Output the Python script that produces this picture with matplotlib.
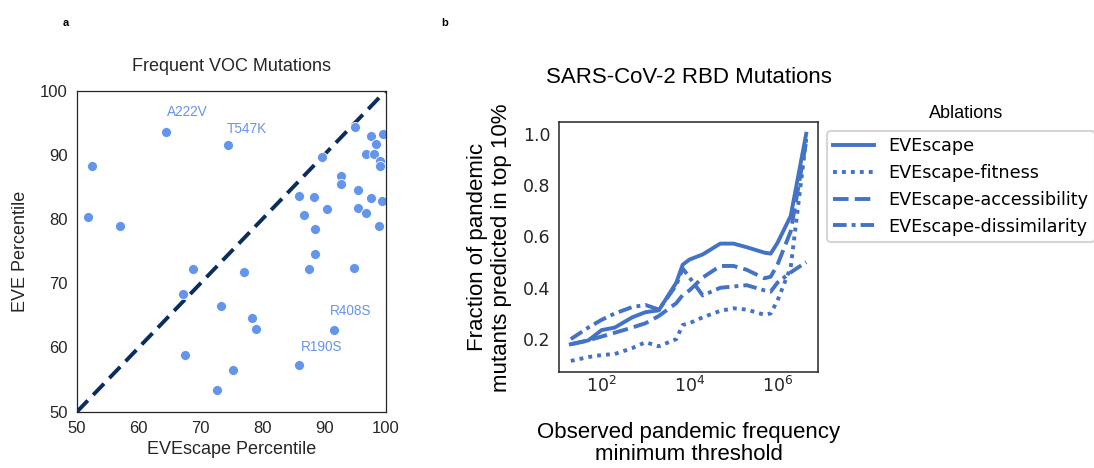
import numpy as np
import matplotlib
matplotlib.use("Agg")
import matplotlib.pyplot as plt

# --- panel a: frequent VOC mutations ---
evescape_pct = [64.4, 74.5, 52.4, 51.8, 57.0, 68.7, 67.1, 77.1, 73.3, 78.3,
                79.0, 67.4, 75.2, 72.7, 85.9, 91.6, 94.8, 87.6, 88.5, 88.5,
                86.7, 85.9, 88.3, 90.5, 92.7, 92.7, 95.4, 95.4, 96.8, 97.5,
                98.8, 99.3, 89.6, 95.0, 97.6, 98.4, 96.7, 98.0, 99.0, 99.0,
                99.5]
eve_pct = [93.5, 91.6, 88.3, 80.3, 78.9, 72.3, 68.4, 71.7, 66.4, 64.6,
           62.9, 58.8, 56.5, 53.4, 57.3, 62.7, 72.4, 72.3, 74.5, 78.4,
           80.7, 83.6, 83.5, 81.6, 86.7, 85.5, 84.6, 81.7, 81.0, 83.3,
           78.9, 82.8, 89.6, 94.4, 93.0, 91.7, 90.2, 90.2, 89.1, 88.2,
           93.3]
labels = ["A222V", "T547K", "R408S", "R190S"]
label_x = [64.5, 74.2, 90.9, 86.3]
label_y = [96.6, 94.1, 65.7, 60.0]

# --- panel b: ablations ---
thresholds = [20, 50, 100, 200, 500, 1e3, 2e3, 5e3, 7e3, 1e4, 2e4, 5e4,
              1e5, 2e5, 5e5, 7e5, 1e6, 2e6, 4.5e6]
full = [0.18, 0.195, 0.235, 0.245, 0.285, 0.305, 0.312, 0.42, 0.49, 0.51,
        0.53, 0.572, 0.572, 0.558, 0.537, 0.533, 0.575, 0.68, 1.0]
no_fitness = [0.115, 0.13, 0.138, 0.142, 0.165, 0.188, 0.172, 0.20, 0.255,
              0.262, 0.285, 0.31, 0.32, 0.315, 0.295, 0.30, 0.35, 0.48, 0.98]
no_access = [0.18, 0.195, 0.21, 0.225, 0.245, 0.262, 0.29, 0.34, 0.372,
             0.39, 0.44, 0.485, 0.485, 0.47, 0.437, 0.443, 0.49, 0.62, 0.97]
no_dissim = [0.20, 0.245, 0.275, 0.30, 0.325, 0.333, 0.315, 0.41, 0.475,
             0.44, 0.37, 0.40, 0.405, 0.41, 0.39, 0.385, 0.42, 0.46, 0.50]
ablation_names = ["EVEscape", "EVEscape-fitness", "EVEscape-accessibility",
                  "EVEscape-dissimilarity"]

plt.rcParams["font.family"] = ["Liberation Sans", "DejaVu Sans"]
fig = plt.figure(figsize=(10.94, 4.68), dpi=100)
dark = "#262626"

ax = fig.add_axes([0.0704, 0.1203, 0.2824, 0.686])
ax.plot([50, 100], [50, 100], ls=(0, (4, 2)), color="#0b2d5e", lw=2.8, zorder=1)
ax.scatter(evescape_pct, eve_pct, s=52, color="#6495ED", edgecolor="white",
           linewidth=0.6, zorder=2)
for txt, lx, ly in zip(labels, label_x, label_y):
    ax.text(lx, ly, txt, color="#6495ED", fontsize=9.8, va="center")
ax.set_xlim(50, 100)
ax.set_ylim(50, 100)
ax.set_xticks([50, 60, 70, 80, 90, 100])
ax.set_yticks([50, 60, 70, 80, 90, 100])
ax.tick_params(length=0, labelsize=12, pad=6.5, colors=dark)
for sp in ax.spines.values():
    sp.set_color(dark)
    sp.set_linewidth(0.9)
ax.set_xlabel("EVEscape Percentile", fontsize=13, color=dark, labelpad=4)
ax.set_ylabel("EVE Percentile", fontsize=13, color=dark, labelpad=8)
ax.set_title("Frequent VOC Mutations", fontsize=13, pad=14, color=dark)

bx = fig.add_axes([0.511, 0.2045, 0.2367, 0.534])
blue = "#4472C4"
styles = ["-", (0, (1, 1.3)), (0, (4, 1.6)), (0, (3.5, 1.3, 1, 1.3))]
for ys, name, st in zip([full, no_fitness, no_access, no_dissim],
                        ablation_names, styles):
    bx.plot(thresholds, ys, ls=st, color=blue, lw=2.8, label=name)
bx.set_xscale("log")
bx.set_xticks([1e2, 1e4, 1e6])
bx.minorticks_off()
bx.set_yticks([0.2, 0.4, 0.6, 0.8, 1.0])
bx.tick_params(axis="x", length=0, pad=2.5, colors=dark)
bx.tick_params(axis="y", length=0, pad=6, colors=dark)
for t in bx.get_yticklabels() + bx.get_xticklabels():
    t.set_fontfamily("DejaVu Sans")
    t.set_fontsize(12.5)
for sp in bx.spines.values():
    sp.set_color(dark)
    sp.set_linewidth(1.1)
bx.set_title("SARS-CoV-2 RBD Mutations", fontsize=16, pad=28)
bx.set_xlabel("Observed pandemic frequency\nminimum threshold", fontsize=16,
              labelpad=19, linespacing=1.05)
bx.set_ylabel("Fraction of pandemic\nmutants predicted in top 10%", fontsize=16,
              labelpad=8)
leg = bx.legend(loc="upper left", bbox_to_anchor=(827 / 1094, 1 - 131 / 468),
                bbox_transform=fig.transFigure, borderaxespad=0,
                frameon=True, fancybox=True,
                prop={"family": "DejaVu Sans", "size": 12.7},
                handlelength=2.3, borderpad=0.35,
                labelspacing=0.5, handletextpad=0.85)
leg.get_frame().set_edgecolor("#cccccc")
leg.get_frame().set_linewidth(1.5)
fig.text(966 / 1094, 1 - 113 / 468, "Ablations", fontsize=13, ha="center",
         va="center")

fig.text(0.057, 0.945, "a", fontsize=8, fontweight="bold")
fig.text(0.403, 0.945, "b", fontsize=8, fontweight="bold")

fig.savefig("out.png", dpi=100)
